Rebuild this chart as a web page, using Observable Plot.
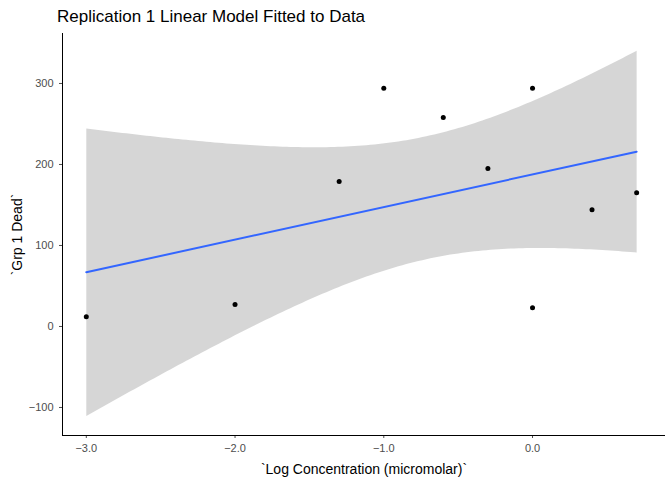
<!DOCTYPE html>
<html><head><meta charset="utf-8">
<script src="https://cdn.jsdelivr.net/npm/d3@7"></script>
<script src="https://cdn.jsdelivr.net/npm/@observablehq/plot@0.6"></script>
<style>body{margin:0;background:#fff;font-family:"Liberation Sans",Arial,sans-serif}
#t{height:30px;padding-left:57px;font-size:17px;line-height:34px;color:#000}</style>
</head><body>
<div id="t">Replication 1 Linear Model Fitted to Data</div>
<div id="c"></div>
<script>
const logConc = [-3, -2, -1.3, -1, -0.6, -0.3, 0, 0, 0.4, 0.7];
const dead = [12, 27, 179, 294, 258, 195, 294, 23, 144, 165];
const xTicks = [-3, -2, -1, 0];
const yTicks = [-100, 0, 100, 200, 300];
const data = logConc.map((x, i) => ({x, y: dead[i]}));
const chart = Plot.plot({
  width: 672, height: 450,
  marginLeft: 62, marginRight: 7, marginTop: 3, marginBottom: 45,
  style: {fontSize: "11px", fontFamily: "Liberation Sans, Arial, sans-serif"},
  x: {domain: [-3.16, 0.894], ticks: xTicks, tickSize: 3, label: "`Log Concentration (micromolar)`", labelAnchor: "center", labelArrow: "none", labelOffset: 38},
  y: {domain: [-134.6, 361.7], ticks: yTicks, tickSize: 3, label: "`Grp 1 Dead`", labelAnchor: "center", labelArrow: "none", labelOffset: 50},
  marks: [
    Plot.linearRegressionY(data, {x: "x", y: "y", stroke: "#3366FF", strokeWidth: 2, fill: "#999", fillOpacity: 0.4, ci: 0.95}),
    Plot.dot(data, {x: "x", y: "y", r: 2.5, fill: "black", stroke: "none"}),
    Plot.axisX({ticks: xTicks, tickSize: 3, color: "#4d4d4d", label: null}),
    Plot.axisY({ticks: yTicks, tickSize: 3, color: "#4d4d4d", label: null}),
    Plot.axisX({ticks: [], label: "`Log Concentration (micromolar)`", labelAnchor: "center", labelArrow: "none", labelOffset: 38, color: "black", fontSize: 14}),
    Plot.axisY({ticks: [], label: "`Grp 1 Dead`", labelAnchor: "center", labelArrow: "none", labelOffset: 50, color: "black", fontSize: 14}),
    Plot.ruleX([-3.16], {stroke: "black"}),
    Plot.ruleY([-134.6], {stroke: "black"})
  ]
});
document.getElementById("c").append(chart);
</script>
</body></html>
